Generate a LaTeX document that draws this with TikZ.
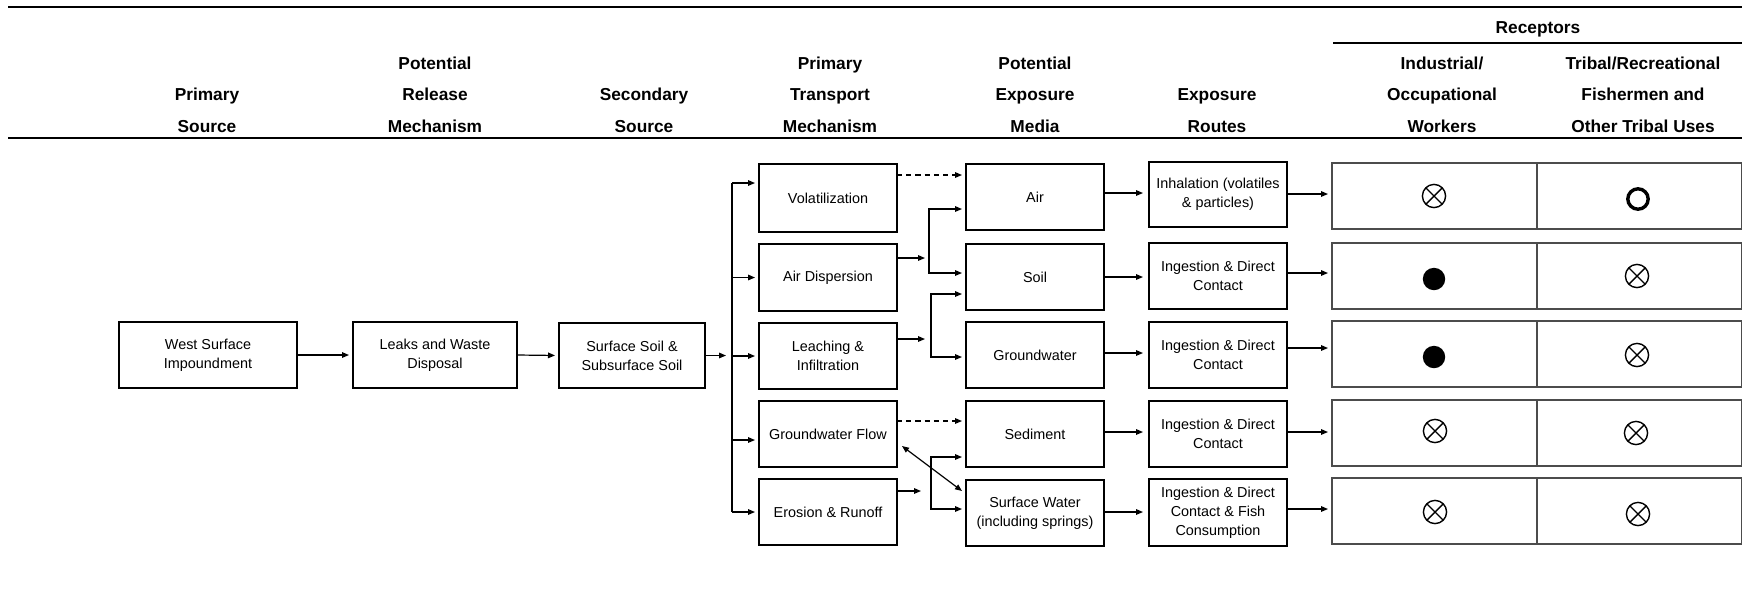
\documentclass[tikz,border=0pt]{standalone}
\usepackage{fontspec}
\setmainfont{Liberation Sans}
\usetikzlibrary{arrows.meta}
\begin{document}
\begin{tikzpicture}[x=0.5pt,y=-0.5pt,
  hdr/.style={anchor=base, inner sep=0pt, font=\fontsize{8.65}{10}\selectfont\bfseries},
  box/.style={draw, line width=0.7pt, inner sep=0pt, outer sep=0pt, align=center,
    font=\fontsize{7.2}{9.5}\selectfont},
  cell/.style={draw=black!70, line width=0.65pt, inner sep=0pt, outer sep=0pt,
    minimum width=102.5pt, minimum height=33pt},
  rule/.style={line width=1pt},
  line/.style={line width=0.6pt},
  arr/.style={line width=0.6pt, -{Triangle[length=3.5pt,width=2.8pt]}, shorten >=2pt},
  darr/.style={line width=0.6pt, {Triangle[length=3.5pt,width=2.8pt]}-{Triangle[length=3.5pt,width=2.8pt]}},
  dsh/.style={arr, dash pattern=on 2.6pt off 2pt},
  xcirc/.pic={\draw[line width=0.7pt] (0,0) circle (5.8pt);
    \draw[line width=0.7pt] (-4.1pt,-4.1pt) -- (4.1pt,4.1pt) (-4.1pt,4.1pt) -- (4.1pt,-4.1pt);},
  fullc/.pic={\fill (0,0) circle (5.6pt);},
  openc/.pic={\draw[line width=1.7pt] (0,0) circle (5.1pt);}
]
\useasboundingbox (0,0) rectangle (1742,596);

% rules
\draw[rule] (8,7) -- (1742,7);
\draw[rule] (8,138) -- (1742,138);
\draw[rule] (1333,43) -- (1742,43);

% headers
\node[hdr] (h0) at (1538,33.5) {Receptors};
\node[hdr] (h1b) at (207,100) {Primary};
\node[hdr] (h1c) at (207,132) {Source};
\node[hdr] (h2a) at (435,69) {Potential};
\node[hdr] (h2b) at (435,100) {Release};
\node[hdr] (h2c) at (435,132) {Mechanism};
\node[hdr] (h3b) at (644,100) {Secondary};
\node[hdr] (h3c) at (644,132) {Source};
\node[hdr] (h4a) at (830,69) {Primary};
\node[hdr] (h4b) at (830,100) {Transport};
\node[hdr] (h4c) at (830,132) {Mechanism};
\node[hdr] (h5a) at (1035,69) {Potential};
\node[hdr] (h5b) at (1035,100) {Exposure};
\node[hdr] (h5c) at (1035,132) {Media};
\node[hdr] (h6b) at (1217,100) {Exposure};
\node[hdr] (h6c) at (1217,132) {Routes};
\node[hdr] (h7a) at (1442,69) {Industrial/};
\node[hdr] (h7b) at (1442,100) {Occupational};
\node[hdr] (h7c) at (1442,132) {Workers};
\node[hdr] (h8a) at (1643,69) {Tribal/Recreational};
\node[hdr] (h8b) at (1643,100) {Fishermen and};
\node[hdr] (h8c) at (1643,132) {Other Tribal Uses};

% source chain
\node[box, minimum width=89pt, minimum height=33pt] (wsi) at (208,355) {West Surface\\Impoundment};
\node[box, minimum width=82pt, minimum height=33pt] (lwd) at (435,355) {Leaks and Waste\\Disposal};
\node[box, minimum width=73pt, minimum height=32.5pt] (sss) at (632,355.5) {Surface Soil \&\\Subsurface Soil};

% transport
\node[box, minimum width=69pt, minimum height=34pt] (volat) at (828,198) {Volatilization};
\node[box, minimum width=69pt, minimum height=33.5pt] (aird) at (828,277.5) {Air Dispersion};
\node[box, minimum width=69pt, minimum height=33pt] (leach) at (828,356) {Leaching \&\\Infiltration};
\node[box, minimum width=69pt, minimum height=33pt] (gwf) at (828,434) {Groundwater Flow};
\node[box, minimum width=69pt, minimum height=33pt] (eros) at (828,512) {Erosion \& Runoff};

% media
\node[box, minimum width=69pt, minimum height=33pt] (air) at (1035,197) {Air};
\node[box, minimum width=69pt, minimum height=33pt] (soil) at (1035,277) {Soil};
\node[box, minimum width=69pt, minimum height=33pt] (gw) at (1035,355) {Groundwater};
\node[box, minimum width=69pt, minimum height=33pt] (sed) at (1035,434) {Sediment};
\node[box, minimum width=69pt, minimum height=33pt] (sw) at (1035,513) {Surface Water\\(including springs)};

% routes
\node[box, minimum width=69pt, minimum height=32.5pt] (r1) at (1218,194.5) {Inhalation (volatiles\\\& particles)};
\node[box, minimum width=69pt, minimum height=33pt] (r2) at (1218,276) {Ingestion \& Direct\\Contact};
\node[box, minimum width=69pt, minimum height=33pt] (r3) at (1218,355) {Ingestion \& Direct\\Contact};
\node[box, minimum width=69pt, minimum height=33pt] (r4) at (1218,434) {Ingestion \& Direct\\Contact};
\node[box, minimum width=69pt, minimum height=33.5pt] (r5) at (1218,512.5) {Ingestion \& Direct\\Contact \& Fish\\Consumption};

% receptor cells
\node[cell] (c1a) at (1434.5,196) {};
\node[cell] (c1b) at (1639,196) {};
\node[cell] (c2a) at (1434.5,276) {};
\node[cell] (c2b) at (1639,276) {};
\node[cell] (c3a) at (1434.5,354) {};
\node[cell] (c3b) at (1639,354) {};
\node[cell] (c4a) at (1434.5,433) {};
\node[cell] (c4b) at (1639,433) {};
\node[cell] (c5a) at (1434.5,511) {};
\node[cell] (c5b) at (1639,511) {};

% symbols
\pic (s1a) at (1434,196) {xcirc};
\pic (s1b) at (1638,199) {openc};
\pic (s2a) at (1434,279) {fullc};
\pic (s2b) at (1637,276) {xcirc};
\pic (s3a) at (1434,357) {fullc};
\pic (s3b) at (1637,355) {xcirc};
\pic (s4a) at (1435,431) {xcirc};
\pic (s4b) at (1636,433) {xcirc};
\pic (s5a) at (1435,512) {xcirc};
\pic (s5b) at (1638,514) {xcirc};

% source chain arrows
\draw[arr] (wsi.east) -- (lwd.west);
\draw[arr] (lwd.east) -- (sss.west);
\coordinate (bus) at (732,355.5);
\coordinate (bustop) at (732,183);
\coordinate (busbot) at (732,512);
\coordinate (busgw) at (732,440);
\draw[arr, shorten >=3pt] (sss.east) -- (bus);
\draw[line] (bustop) -- (busbot);
\draw[arr] (bustop) -- (bustop -| volat.west);
\draw[arr] (bus |- aird.west) -- (aird.west);
\draw[arr] (bus |- leach.west) -- (leach.west);
\draw[arr] (busgw) -- (busgw -| gwf.west);
\draw[arr] (busbot) -- (busbot -| eros.west);

% transport -> media
\coordinate (v1) at (897,175);
\draw[dsh] (v1) -- (v1 -| air.west);
\coordinate (ad) at (897,258);
\coordinate (adt) at (925,258);
\draw[arr, shorten >=0pt] (ad) -- (adt);
\coordinate (k1a) at (929,209);
\coordinate (k1b) at (929,273);
\draw[darr, shorten <=2pt, shorten >=2pt] (k1a -| air.west) -- (k1a) -- (k1b) -- (k1b -| soil.west);
\coordinate (le) at (897,339);
\coordinate (let) at (925,339);
\draw[arr, shorten >=0pt] (le) -- (let);
\coordinate (k2a) at (931,294);
\coordinate (k2b) at (931,357);
\draw[darr, shorten <=2pt, shorten >=2pt] (k2a -| soil.west) -- (k2a) -- (k2b) -- (k2b -| gw.west);
\coordinate (g1) at (897,421);
\draw[dsh] (g1) -- (g1 -| sed.west);
\coordinate (dd1) at (902,446);
\coordinate (dd2) at (962,491);
\draw[darr] (dd1) -- (dd2);
\coordinate (er) at (897,491);
\coordinate (ert) at (921,491);
\draw[arr, shorten >=0pt] (er) -- (ert);
\coordinate (k3a) at (931,457);
\coordinate (k3b) at (931,509);
\draw[darr, shorten <=2pt, shorten >=2pt] (k3a -| sed.west) -- (k3a) -- (k3b) -- (k3b -| sw.west);

% media -> routes
\coordinate (m1) at (0,193);
\coordinate (m2) at (0,277);
\coordinate (m3) at (0,353);
\coordinate (m4) at (0,432);
\coordinate (m5) at (0,512);
\draw[arr, shorten >=3pt] (air.east |- m1) -- (r1.west |- m1);
\draw[arr, shorten >=3pt] (soil.east |- m2) -- (r2.west |- m2);
\draw[arr, shorten >=3pt] (gw.east |- m3) -- (r3.west |- m3);
\draw[arr, shorten >=3pt] (sed.east |- m4) -- (r4.west |- m4);
\draw[arr, shorten >=3pt] (sw.east |- m5) -- (r5.west |- m5);

% routes -> receptors
\coordinate (q1) at (0,194);
\coordinate (q2) at (0,273);
\coordinate (q3) at (0,348);
\coordinate (q4) at (0,432);
\coordinate (q5) at (0,509);
\draw[arr] (r1.east |- q1) -- (c1a.west |- q1);
\draw[arr] (r2.east |- q2) -- (c2a.west |- q2);
\draw[arr] (r3.east |- q3) -- (c3a.west |- q3);
\draw[arr] (r4.east |- q4) -- (c4a.west |- q4);
\draw[arr] (r5.east |- q5) -- (c5a.west |- q5);
\end{tikzpicture}
\end{document}
